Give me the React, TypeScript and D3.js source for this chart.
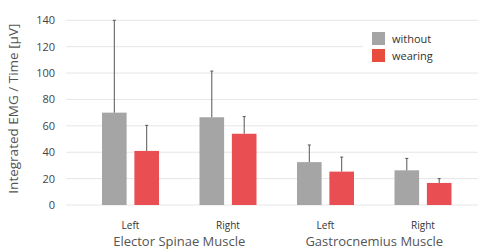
import * as d3 from 'd3'

const groups = ['Elector Spinae Muscle', 'Gastrocnemius Muscle']
const sides = ['Left', 'Right']
const series = ['without', 'wearing']
const withoutMean = [70, 66.5, 32.5, 26.3]
const withoutErr = [70, 35, 13, 9]
const wearingMean = [41, 54, 25.3, 16.7]
const wearingErr = [19.4, 13, 11, 3.3]
const yTicks = [0, 20, 40, 60, 80, 100, 120, 140]

const colors = { without: '#a5a5a5', wearing: '#e94e52' }
const legendColors = { without: '#a5a5a5', wearing: '#e84c3c' }

const W = 483
const H = 250
const font = '"Open Sans", "Noto Sans", sans-serif'

const clusters = groups.flatMap(g => sides.map(s => `${g}|${s}`))
const rows = clusters.map((c, i) => ({
  key: c,
  side: c.split('|')[1],
  without: { mean: withoutMean[i], err: withoutErr[i] },
  wearing: { mean: wearingMean[i], err: wearingErr[i] },
}))

export default function App() {
  const x0 = d3.scaleBand().domain(clusters).range([81.75, 471.75])
  const x1 = d3.scaleBand().domain(series).range([x0.bandwidth() / 2 - 28.5, x0.bandwidth() / 2 + 28.5]).paddingInner(0.24)
  const y = d3.scaleLinear().domain([0, 140]).range([205, 20.3])

  return (
    <svg
      width={W}
      height={H}
      style={{ position: 'absolute', left: 0, top: 0, background: '#fff' }}
      fontFamily={font}
    >
      <g>
        {yTicks.map(t => (
          <g key={t}>
            <line x1={66} x2={478} y1={y(t)} y2={y(t)} stroke="#e6e6e6" strokeWidth={1} />
            <text x={55} y={y(t) + 4} textAnchor="end" fontSize={11} fill="#444">
              {t}
            </text>
          </g>
        ))}
      </g>
      <text
        transform={`translate(18,${(y(0) + y(140)) / 2 - 4}) rotate(-90)`}
        textAnchor="middle"
        fontSize={13.5}
        fill="#555"
      >
        Integrated EMG / Time [μV]
      </text>
      {rows.map(r => (
        <g key={r.key} transform={`translate(${x0(r.key)},0)`}>
          {series.map(s => {
            const d = r[s]
            const cx = x1(s) + x1.bandwidth() / 2
            return (
              <g key={s}>
                <rect x={x1(s)} y={y(d.mean)} width={x1.bandwidth()} height={y(0) - y(d.mean)} fill={colors[s]} />
                <line x1={cx} x2={cx} y1={y(d.mean)} y2={y(d.mean + d.err)} stroke="#555" strokeWidth={1} />
                <line x1={cx - 1.5} x2={cx + 1.5} y1={y(d.mean + d.err)} y2={y(d.mean + d.err)} stroke="#555" strokeWidth={1} />
              </g>
            )
          })}
          <text x={x0.bandwidth() / 2} y={229} textAnchor="middle" fontSize={10} fill="#333">
            {r.side}
          </text>
        </g>
      ))}
      {groups.map(g => {
        const a = x0(`${g}|Left`) + x0.bandwidth() / 2
        const b = x0(`${g}|Right`) + x0.bandwidth() / 2
        return (
          <text key={g} x={(a + b) / 2} y={246} textAnchor="middle" fontSize={13} fill="#555">
            {g}
          </text>
        )
      })}
      <g>
        <rect x={363} y={28} width={115} height={38} fill="#fff" />
        {series.map((s, i) => (
          <g key={s} transform={`translate(372,${32 + i * 17})`}>
            <rect width={13} height={13} fill={legendColors[s]} />
            <text x={20} y={10.5} fontSize={11} fill="#333">
              {s}
            </text>
          </g>
        ))}
      </g>
    </svg>
  )
}
